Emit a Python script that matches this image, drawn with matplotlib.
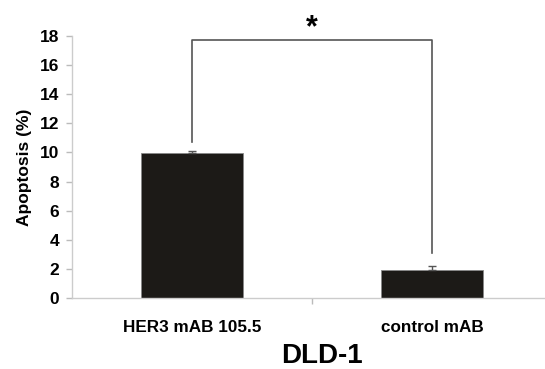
import matplotlib.pyplot as plt

plt.rcParams['font.family'] = ['Liberation Sans', 'DejaVu Sans']
plt.rcParams['font.weight'] = 'bold'

# 数据
groups = ['HER3 mAB 105.5', 'control mAB']
apoptosis = [9.95, 1.9]
errors = [0.15, 0.3]
yticks = list(range(0, 19, 2))

fig = plt.figure(figsize=(5.45, 3.69), dpi=100)
ax = fig.add_axes([0.132, 0.1924, 0.868, 0.71])

pos = list(range(len(groups)))
ax.bar(pos, apoptosis, width=0.425, color='#1c1a17', edgecolor='#888888', linewidth=0.6)
ax.errorbar(pos, apoptosis, yerr=[[0, 0], errors], fmt='none', ecolor='#555555',
            elinewidth=1, capsize=3, capthick=1)

# 显著性标注
ax.plot([0, 0, 1, 1], [10.7, 17.7, 17.7, 3.1], color='#555555', lw=1.2)
ax.text(0.5, 18.5, '*', ha='center', va='center', fontsize=22, fontweight='bold', clip_on=False)

ax.set_xlim(-0.5, 1.471)
ax.set_ylim(0, 18)
ax.set_yticks(yticks)
ax.set_yticklabels([str(t) for t in yticks], fontsize=12.5, fontweight='bold')
ax.set_xticks([0.5])
ax.set_xticklabels([''])
ax.tick_params(axis='y', color='#bbbbbb', length=4, width=1, pad=5)
ax.tick_params(axis='x', color='#bbbbbb', length=4, width=1)
for s in ['top', 'right']:
    ax.spines[s].set_visible(False)
for s in ['left', 'bottom']:
    ax.spines[s].set_color('#cccccc')
    ax.spines[s].set_linewidth(1)
ax.set_ylabel('Apoptosis (%)', fontsize=12.5, fontweight='bold', labelpad=6)

for p, g in zip(pos, groups):
    ax.text(p, -2.0, g, ha='center', va='center', fontsize=12.3, fontweight='bold')
fig.text(322 / 545, 1 - 356 / 369, 'DLD-1', ha='center', va='center', fontsize=20, fontweight='bold')

fig.savefig('out.png', dpi=100)
